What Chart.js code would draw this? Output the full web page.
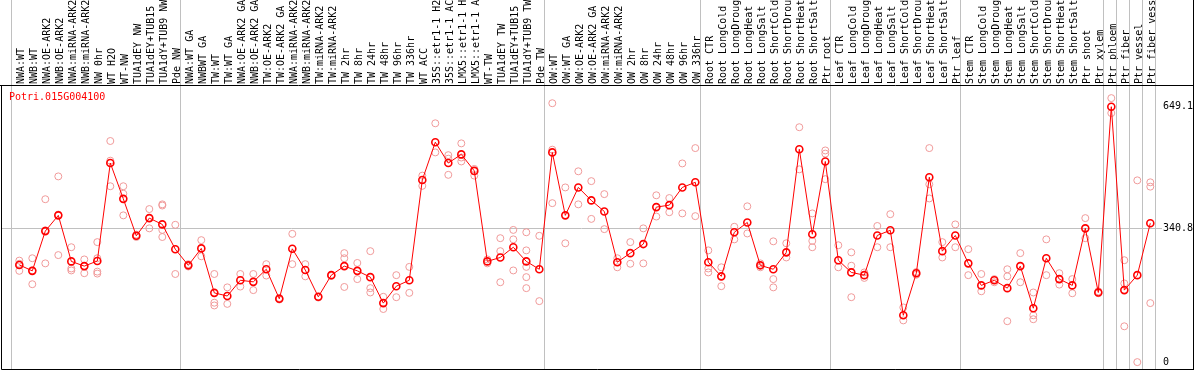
<!DOCTYPE html>
<html>
<head>
<meta charset="utf-8">
<script src="https://cdn.jsdelivr.net/npm/chart.js@4/dist/chart.umd.min.js"></script>
<style>
  html, body { margin: 0; padding: 0; background: #fff; }
</style>
</head>
<body>
<canvas id="expr" width="1194" height="370"></canvas>
<script>
var geneName = 'Potri.015G004100';

var labels = [
  'NWA:WT', 'NWB:WT', 'NWA:OE-ARK2', 'NWB:OE-ARK2', 'NWA:miRNA-ARK2', 'NWB:miRNA-ARK2',
  'NW 0hr', 'WT H2O', 'WT-NW', 'TUA1dEY NW', 'TUA1dEY+TUB15', 'TUA1dY+TUB9 NW', 'Pde NW',
  'NWA:WT GA', 'NWBWT GA', 'TW:WT', 'TW:WT GA', 'NWA:OE-ARK2 GA', 'NWB:OE-ARK2 GA',
  'TW:OE-ARK2', 'TW:OE-ARK2 GA', 'NWA:miRNA-ARK2', 'NWB:miRNA-ARK2', 'TW:miRNA-ARK2',
  'TW:miRNA-ARK2', 'TW 2hr', 'TW 8hr', 'TW 24hr', 'TW 48hr', 'TW 96hr', 'TW 336hr',
  'WT ACC', '35S::etr1-1 H2', '35S::etr1-1 AC', 'LMX5::etr1-1 H', 'LMX5::etr1-1 A',
  'WT-TW', 'TUA1dEY TW', 'TUA1dEY+TUB15', 'TUA1dY+TUB9 TW', 'Pde TW',
  'OW:WT', 'OW:WT GA', 'OW:OE-ARK2', 'OW:OE-ARK2 GA', 'OW:miRNA-ARK2', 'OW:miRNA-ARK2',
  'OW 2hr', 'OW 8hr', 'OW 24hr', 'OW 48hr', 'OW 96hr', 'OW 336hr',
  'Root CTR', 'Root LongCold', 'Root LongDroug', 'Root LongHeat', 'Root LongSalt',
  'Root ShortCold', 'Root ShortDrou', 'Root ShortHeat', 'Root ShortSalt', 'Ptr root',
  'Leaf CTR', 'Leaf LongCold', 'Leaf LongDroug', 'Leaf LongHeat', 'Leaf LongSalt',
  'Leaf ShortCold', 'Leaf ShortDrou', 'Leaf ShortHeat', 'Leaf ShortSalt', 'Ptr leaf',
  'Stem CTR', 'Stem LongCold', 'Stem LongDroug', 'Stem LongHeat', 'Stem LongSalt',
  'Stem ShortCold', 'Stem ShortDrou', 'Stem ShortHeat', 'Stem ShortSalt', 'Ptr shoot',
  'Ptr xylem', 'Ptr phloem', 'Ptr fiber', 'Ptr vessel', 'Ptr fiber vess'
];

// sample groups start at these label indexes (grey separators)
var groupStarts = [0, 13, 41, 53, 63, 73, 84, 85, 86, 87, 88];

var means = [
  247, 232, 333, 373, 256, 244, 257, 506, 415, 321, 366, 350, 287, 246, 289, 176, 168, 208, 204, 236,
  161, 288, 234, 166, 221, 244, 232, 216, 150, 193, 208, 463, 559, 506, 528, 486, 256, 266, 292, 256,
  236, 533, 373, 444, 411, 383, 254, 277, 300, 394, 399, 444, 457, 254, 218, 330, 355, 246, 236, 279,
  541, 325, 510, 259, 228, 221, 322, 335, 119, 226, 470, 282, 322, 251, 195, 208, 188, 244, 137, 264,
  211, 195, 340, 177, 649.1, 183, 221, 353
];

var replicates = [
  [258, 232, 250], [264, 198, 233], [414, 251, 335], [472, 272, 375], [292, 238, 233],
  [261, 226, 244], [305, 264, 230, 225], [562, 512, 447], [447, 428, 373], [321, 318, 324],
  [389, 340, 366], [401, 398, 336, 318], [349, 224], [246, 249, 243], [310, 269],
  [224, 151, 144], [190, 148], [224, 192], [224, 183], [249, 220],
  [161, 163, 159], [326, 249], [249, 218], [166, 164], [221, 219],
  [277, 264, 191], [252, 211], [282, 188, 177], [166, 135], [221, 165],
  [242, 176], [474, 448], [607, 533], [526, 476, 517], [556, 510, 520],
  [491, 474], [261, 251], [315, 282, 203], [336, 312, 233], [330, 284, 242, 216, 188],
  [321, 155], [658, 404, 540], [444, 302], [485, 401], [460, 364],
  [427, 338], [264, 241], [305, 250], [340, 251], [424, 370],
  [417, 381], [505, 378], [544, 371], [284, 238, 228], [241, 193],
  [344, 312], [396, 327], [251, 241], [307, 211, 190], [302, 266],
  [597, 490], [378, 308, 292], [538, 530, 465], [297, 241], [279, 245, 165],
  [228, 214], [346, 292], [376, 292], [139, 106], [229, 222],
  [544, 452, 416], [305, 266], [350, 292], [287, 221], [224, 180],
  [211, 203], [236, 218, 104], [277, 203], [177, 119, 109], [312, 221],
  [226, 197], [211, 175], [366, 315], [180, 175], [671, 633],
  [259, 200, 91], [462, 0], [457, 446, 150]
];

var yTicks = [0, 340.8, 649.1];

var meanPoints = means.map((v, i) => ({x: i, y: v}));
var repPoints = [];
replicates.forEach((arr, i) => arr.forEach(v => repPoints.push({x: i, y: v})));

var mono = 'DejaVu Sans Mono';

// grey separators, outer frame and gene name
var decor = {
  id: 'decor',
  beforeDatasetsDraw(chart) {
    var c = chart.ctx, xs = chart.scales.x, area = chart.chartArea;
    c.save();
    c.strokeStyle = '#c0c0c0';
    c.lineWidth = 1;
    groupStarts.forEach(k => {
      var px = Math.round(xs.getPixelForValue(k - 0.64)) + 0.5;
      c.beginPath();
      c.moveTo(px, 0);
      c.lineTo(px, area.bottom);
      c.stroke();
    });
    c.restore();
  },
  afterDraw(chart) {
    var c = chart.ctx, area = chart.chartArea;
    c.save();
    c.strokeStyle = '#000';
    c.lineWidth = 1;
    c.beginPath();
    c.moveTo(0, area.top - 0.5);
    c.lineTo(chart.width, area.top - 0.5);
    c.moveTo(1.5, area.top);
    c.lineTo(1.5, area.bottom + 0.5);
    c.lineTo(chart.width, area.bottom + 0.5);
    c.moveTo(chart.width - 0.5, 0);
    c.lineTo(chart.width - 0.5, area.bottom);
    c.stroke();
    c.fillStyle = '#ff0000';
    c.font = '10px "' + mono + '"';
    c.textBaseline = 'middle';
    c.fillText(geneName, 9, area.top + 11);
    c.restore();
  }
};

var ctx = document.getElementById('expr').getContext('2d');
var chart = new Chart(ctx, {
  type: 'line',
  data: {
    datasets: [
      {
        label: 'mean',
        data: meanPoints,
        borderColor: '#ff0000',
        borderWidth: 1,
        pointRadius: 3.5,
        pointBorderWidth: 1.6,
        pointBorderColor: '#ff0000',
        pointBackgroundColor: 'rgba(0,0,0,0)',
        tension: 0
      },
      {
        label: 'replicates',
        data: repPoints,
        showLine: false,
        pointRadius: 3.5,
        pointBorderWidth: 1,
        pointBorderColor: '#f09a9a',
        pointBackgroundColor: 'rgba(0,0,0,0)'
      }
    ]
  },
  options: {
    responsive: false,
    animation: false,
    devicePixelRatio: 1,
    layout: { autoPadding: false, padding: { left: 1, right: 0, top: 0, bottom: 1 } },
    plugins: { legend: { display: false }, tooltip: { enabled: false } },
    scales: {
      x: {
        type: 'linear',
        position: 'top',
        min: -1.408,
        max: 87.9,
        afterBuildTicks: axis => { axis.ticks = labels.map((l, i) => ({value: i})); },
        afterFit: axis => {
          axis.height = 86;
          axis.paddingLeft = 0;
          axis.paddingRight = 0;
        },
        grid: { display: false, drawTicks: false },
        border: { display: false },
        ticks: {
          autoSkip: false,
          minRotation: 90,
          maxRotation: 90,
          padding: 2,
          labelOffset: 14,
          color: '#000',
          font: { family: mono, size: 10 },
          callback: v => labels[v]
        }
      },
      y: {
        type: 'linear',
        position: 'right',
        min: -17.5,
        max: 701.8,
        afterBuildTicks: axis => { axis.ticks = yTicks.map(v => ({value: v})); },
        afterFit: axis => {
          axis.width = 32;
          axis.paddingTop = 0;
          axis.paddingBottom = 0;
        },
        grid: {
          drawTicks: false,
          color: c => (c.tick && c.tick.value === 340.8) ? '#c0c0c0' : 'rgba(0,0,0,0)'
        },
        border: { display: false },
        ticks: {
          crossAlign: 'near',
          padding: 1,
          color: '#000',
          font: { family: mono, size: 10 },
          callback: v => v === 0 ? '0' : v.toFixed(1)
        }
      }
    }
  },
  plugins: [decor]
});
</script>
</body>
</html>
